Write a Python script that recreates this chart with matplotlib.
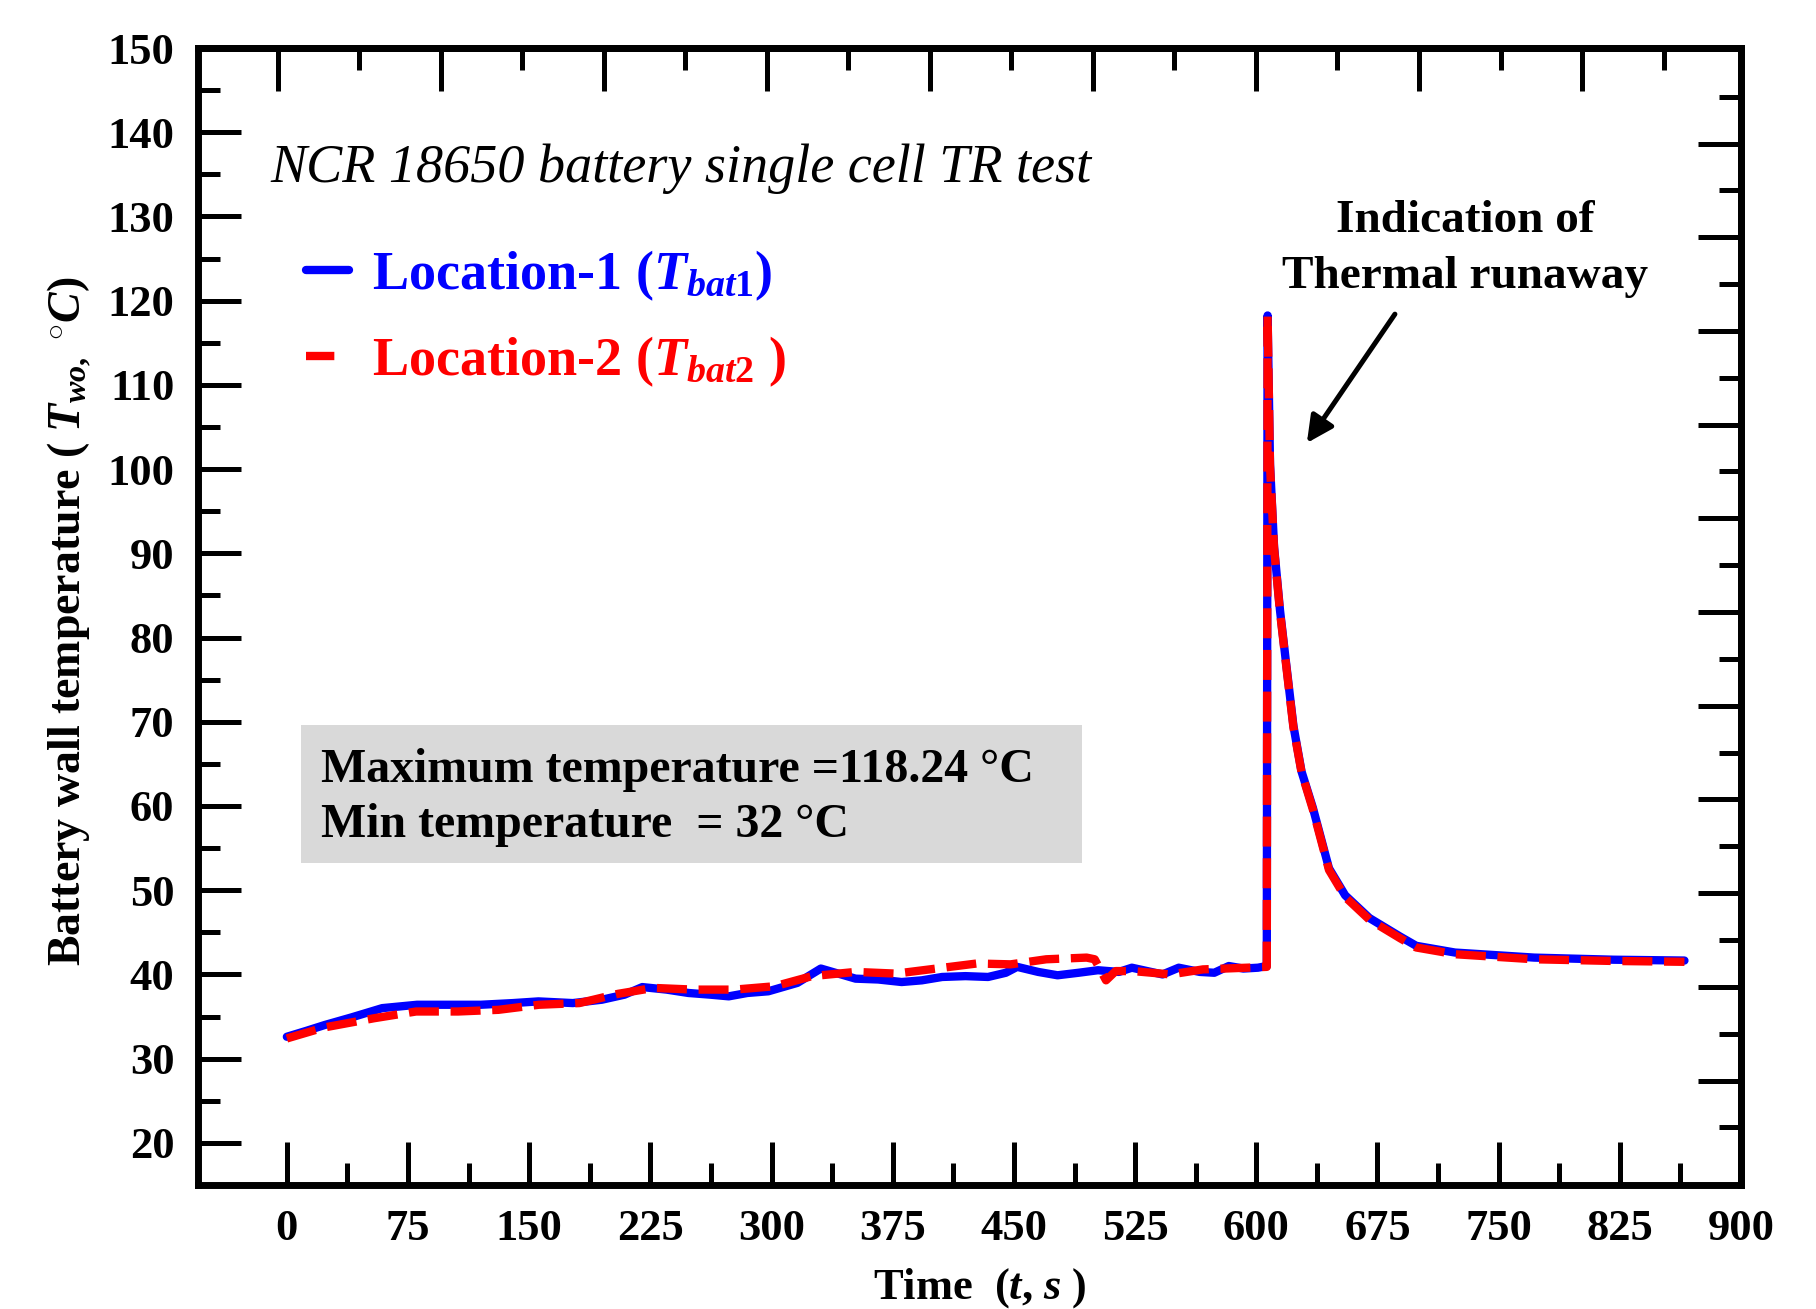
import matplotlib
matplotlib.use('Agg')
import matplotlib.pyplot as plt
from matplotlib.lines import Line2D
from matplotlib.patches import Rectangle
import numpy as np

plt.rcParams['font.family'] = ['Liberation Serif', 'DejaVu Serif']
plt.rcParams['font.weight'] = 'bold'
plt.rcParams['axes.labelweight'] = 'bold'
plt.rcParams['mathtext.fontset'] = 'custom'
plt.rcParams['mathtext.rm'] = 'Liberation Serif:bold'
plt.rcParams['mathtext.it'] = 'Liberation Serif:italic:bold'
plt.rcParams['mathtext.bf'] = 'Liberation Serif:bold'

# ---------------- data ----------------
t_bat1 = [0, 12, 23.5, 40, 59, 80.6, 100, 120, 140, 155.7, 177, 195, 209, 220,
          235, 248.5, 262, 273.5, 285, 298, 316, 330.5, 352, 366, 380.5, 393,
          405.6, 420, 434, 445, 452, 465, 477, 490, 502, 515, 523, 542, 552,
          565, 574, 583, 592, 601, 606.5, 607, 608.5, 611, 614.7, 618, 623,
          628, 635, 645, 655, 670, 689, 699, 723, 772, 821, 865]
T_bat1 = [32.6, 33.3, 34.0, 34.9, 36.0, 36.4, 36.4, 36.4, 36.6, 36.8, 36.6, 37.0,
          37.6, 38.5, 38.2, 37.8, 37.6, 37.4, 37.8, 38.0, 39.0, 40.7, 39.5, 39.4,
          39.1, 39.3, 39.7, 39.8, 39.7, 40.2, 40.9, 40.3, 39.9, 40.2, 40.5, 40.3,
          40.8, 40.0, 40.8, 40.3, 40.2, 41.0, 40.7, 40.8, 41.0, 118.24, 100.6,
          90.8, 83.2, 77.7, 69.5, 64.1, 59.8, 52.6, 49.4, 46.7, 44.5, 43.4, 42.6,
          42.0, 41.75, 41.65]

t_bat2 = [0, 23, 54, 80, 106, 131, 156, 181, 205, 227, 252, 277, 302, 325, 352,
          377, 402, 427, 448, 470, 495, 500, 507, 513, 523.6, 547, 567, 594,
          606.5, 607, 608.5, 611, 614.7, 618, 623, 628, 635, 645, 655, 670, 689,
          699, 723, 772, 821, 865]
T_bat2 = [32.4, 33.7, 34.8, 35.6, 35.6, 35.8, 36.4, 36.6, 37.7, 38.4, 38.2, 38.2,
          38.6, 39.8, 40.3, 40.1, 40.7, 41.3, 41.2, 41.8, 42.0, 41.8, 39.3, 40.4,
          40.4, 40.0, 40.6, 40.8, 40.9, 118.2, 100.4, 90.6, 83.0, 77.5, 69.3,
          64.0, 59.6, 52.4, 49.2, 46.5, 44.3, 43.2, 42.4, 41.8, 41.6, 41.5]

series_labels = [r'Location-1 ($T_{\mathit{bat1}}$)', r'Location-2 ($T_{\mathit{bat2}}$ )']
x_ticks = [0, 75, 150, 225, 300, 375, 450, 525, 600, 675, 750, 825, 900]
y_ticks = [20, 30, 40, 50, 60, 70, 80, 90, 100, 110, 120, 130, 140, 150]

# ---------------- figure ----------------
fig = plt.figure(figsize=(18.16, 13.09), dpi=100)
ax = fig.add_axes([0.10903, 0.09473, 0.84967, 0.86860])

ax.plot(t_bat1, T_bat1, color='#0000ff', lw=6, solid_capstyle='round',
        solid_joinstyle='round', zorder=3)
ax.plot(t_bat2, T_bat2, color='#ff0000', lw=6, dashes=(3.6, 1.4), zorder=4)

ax.set_xlim(-55, 900)
ax.set_ylim(15, 150)
ax.set_xticks(x_ticks)
ax.set_xticks(np.arange(37.5, 900, 75), minor=True)
ax.set_yticks(y_ticks)
ax.set_yticks(np.arange(25, 150, 10), minor=True)
ax.tick_params(which='both', direction='in', top=False, right=False,
               width=3.6, labelsize=32, pad=17)
ax.tick_params(which='major', length=31)
ax.tick_params(which='minor', length=16)
for s in ax.spines.values():
    s.set_linewidth(5)

# top / right tick rows (own spacing, as in the original)
top = ax.secondary_xaxis('top')
top.set_xticks(-5.6 + 100.9 * np.arange(9))
top.set_xticks(44.85 + 100.9 * np.arange(9), minor=True)
top.tick_params(which='both', direction='in', labeltop=False, width=3.6)
top.tick_params(which='major', length=31)
top.tick_params(which='minor', length=16)
top.spines['top'].set_linewidth(5)

right = ax.secondary_yaxis('right')
right.set_yticks(27.4 + 11.125 * np.arange(11))
right.set_yticks(21.85 + 11.125 * np.arange(12), minor=True)
right.tick_params(which='both', direction='in', labelright=False, width=3.6)
right.tick_params(which='major', length=31)
right.tick_params(which='minor', length=16)
right.spines['right'].set_linewidth(5)

ax.set_xlabel(r'Time  ($t$, $s$ )', fontsize=32, fontweight='bold')
ax.xaxis.set_label_coords(0.507, -0.071)
ax.set_ylabel(r'Battery wall temperature ( $T_{wo,}$ $^{\circ}C$)', fontsize=33,
              fontweight='bold')
ax.yaxis.set_label_coords(-0.069, 0.496)

# legend
h1 = Line2D([], [], color='#0000ff', lw=6, solid_capstyle='round')
h2 = Line2D([], [], color='#ff0000', lw=6, dashes=(3.4, 3))
ax.legend([h1, h2], series_labels, loc='upper left', bbox_to_anchor=(0.070, 0.824),
          frameon=False, fontsize=39, handlelength=0.8, handletextpad=0.42,
          labelspacing=0.58, borderpad=0, borderaxespad=0, labelcolor='linecolor')

# title text inside
ax.text(0.0467, 0.882, 'NCR 18650 battery single cell TR test', transform=ax.transAxes,
        style='italic', weight='normal', fontsize=39, va='baseline', ha='left')

# info box
ax.add_patch(Rectangle((0.0668, 0.2832), 0.506, 0.1214, transform=ax.transAxes,
                       facecolor='#d9d9d9', edgecolor='none', zorder=1))
ax.text(0.0797, 0.3544, 'Maximum temperature =118.24 \u00b0C', transform=ax.transAxes,
        fontsize=34.5, va='baseline', ha='left', zorder=2)
ax.text(0.0797, 0.3061, 'Min temperature  = 32 \u00b0C', transform=ax.transAxes,
        fontsize=34.5, va='baseline', ha='left', zorder=2)

# annotation
ax.text(0.821, 0.838, 'Indication of', transform=ax.transAxes, fontsize=34,
        ha='center', va='baseline')
ax.text(0.821, 0.789, 'Thermal runaway', transform=ax.transAxes, fontsize=34,
        ha='center', va='baseline')
ax.annotate('', xy=(631.3, 103.1), xytext=(685.8, 118.4),
            arrowprops=dict(arrowstyle='-|>,head_length=0.4,head_width=0.2',
                            lw=3.6, color='black', mutation_scale=40,
                            shrinkA=0, shrinkB=0))

fig.savefig('out.png', dpi=100)
